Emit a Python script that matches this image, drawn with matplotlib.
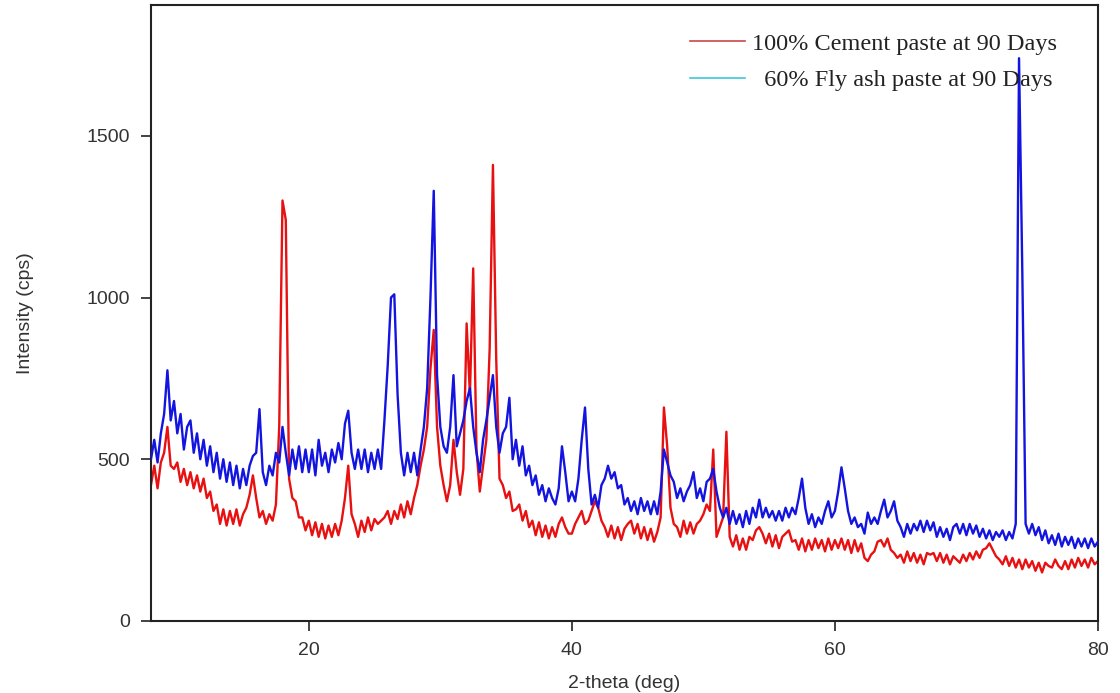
import numpy as np
import matplotlib
matplotlib.use("Agg")
import matplotlib.pyplot as plt
from matplotlib.lines import Line2D

# 2-theta grid: 8 to 80 deg, 0.25 deg step (values below, one per grid point)
two_theta_start = 8.0
two_theta_end = 80.0

# 60% fly ash paste at 90 days (blue)
flyash_60 = [
    500, 560, 490, 580, 640, 775, 620, 680,      # 8.00 - 9.75
    580, 640, 530, 600, 620, 520, 580, 500,      # 10
    560, 480, 540, 460, 520, 440, 500, 430,      # 12
    490, 420, 480, 410, 470, 420, 480, 510,      # 14
    520, 655, 460, 420, 480, 450, 520, 490,      # 16
    600, 520, 450, 530, 470, 540, 460, 530,      # 18
    460, 530, 450, 560, 480, 520, 460, 530,      # 20
    490, 550, 500, 610, 650, 520, 470, 530,      # 22
    470, 530, 460, 520, 470, 530, 470, 620,      # 24
    790, 1000, 1010, 700, 520, 450, 520, 460,    # 26
    520, 450, 530, 600, 720, 1000, 1330, 760,    # 28
    600, 540, 520, 600, 760, 540, 580, 620,      # 30
    680, 720, 600, 520, 460, 560, 620, 690,      # 32
    760, 600, 520, 580, 600, 690, 500, 560,      # 34
    480, 540, 450, 480, 420, 450, 390, 420,      # 36
    370, 410, 380, 360, 410, 540, 460, 370,      # 38
    400, 370, 440, 560, 660, 470, 360, 390,      # 40
    350, 420, 440, 480, 440, 460, 410, 420,      # 42
    360, 380, 340, 370, 330, 380, 340, 370,      # 44
    330, 370, 330, 400, 530, 490, 450, 430,      # 46
    380, 410, 370, 400, 420, 460, 380, 410,      # 48
    370, 430, 440, 470, 400, 350, 320, 350,      # 50
    300, 340, 300, 330, 290, 340, 300, 350,      # 52
    320, 375, 320, 350, 320, 340, 310, 340,      # 54
    310, 350, 320, 350, 330, 380, 440, 350,      # 56
    300, 330, 290, 320, 300, 340, 370, 320,      # 58
    340, 400, 475, 410, 340, 300, 320, 290,      # 60
    300, 270, 335, 300, 320, 300, 340, 375,      # 62
    320, 340, 370, 310, 290, 260, 300, 270,      # 64
    300, 280, 310, 275, 310, 280, 305, 260,      # 66
    290, 260, 285, 250, 290, 300, 270, 300,      # 68
    265, 300, 270, 295, 260, 285, 255, 280,      # 70
    250, 275, 260, 280, 250, 275, 255, 300,      # 72
    1740, 1080, 300, 270, 300, 265, 290, 250,    # 74
    280, 240, 265, 235, 270, 230, 260, 235,      # 76
    260, 225, 255, 230, 255, 225, 255, 230,      # 78
    245,                                         # 80
]

# 100% cement paste at 90 days (red)
cement_100 = [
    420, 480, 410, 490, 520, 600, 480, 470,      # 8
    490, 430, 470, 420, 460, 410, 450, 400,      # 10
    440, 380, 400, 340, 360, 300, 345, 295,      # 12
    340, 300, 345, 295, 330, 350, 390, 450,      # 14
    380, 320, 340, 300, 330, 310, 360, 600,      # 16
    1300, 1240, 440, 380, 370, 320, 320, 280,    # 18
    310, 265, 305, 260, 300, 255, 295, 260,      # 20
    300, 265, 310, 380, 480, 330, 300, 260,      # 22
    310, 275, 320, 280, 315, 300, 310, 320,      # 24
    340, 300, 340, 315, 360, 320, 370, 330,      # 26
    380, 420, 480, 530, 600, 780, 900, 600,      # 28
    480, 420, 370, 420, 560, 460, 390, 470,      # 30
    920, 700, 1090, 530, 400, 480, 560, 840,     # 32
    1410, 810, 440, 420, 380, 400, 340, 345,     # 34
    360, 310, 340, 290, 310, 265, 305, 260,      # 36
    295, 255, 290, 260, 300, 320, 290, 270,      # 38
    270, 300, 320, 340, 300, 310, 340, 370,      # 40
    350, 310, 290, 260, 295, 255, 290, 250,      # 42
    285, 300, 310, 270, 300, 255, 290, 250,      # 44
    285, 245, 275, 320, 660, 540, 350, 300,      # 46
    290, 260, 310, 270, 305, 270, 300, 310,      # 48
    330, 360, 340, 530, 260, 290, 320, 585,      # 50
    260, 230, 265, 220, 255, 220, 260, 250,      # 52
    280, 290, 270, 240, 270, 230, 265, 225,      # 54
    260, 270, 280, 245, 250, 220, 255, 215,      # 56
    250, 220, 255, 225, 250, 215, 255, 220,      # 58
    250, 225, 255, 220, 250, 210, 250, 215,      # 60
    240, 195, 185, 205, 215, 245, 250, 230,      # 62
    255, 220, 210, 195, 205, 180, 215, 185,      # 64
    210, 180, 205, 175, 210, 205, 210, 185,      # 66
    210, 180, 205, 175, 200, 190, 180, 205,      # 68
    185, 210, 190, 215, 195, 220, 225, 240,      # 70
    220, 200, 190, 175, 200, 170, 195, 165,      # 72
    190, 160, 190, 165, 185, 155, 180, 150,      # 74
    180, 170, 165, 190, 170, 160, 185, 160,      # 76
    190, 165, 195, 170, 190, 165, 195, 175,      # 78
    185,                                         # 80
]

series_labels = ["100% Cement paste at 90 Days", "  60% Fly ash paste at 90 Days"]
x_ticks = [20, 40, 60, 80]
y_ticks = [0, 500, 1000, 1500]

x_blue = np.linspace(two_theta_start, two_theta_end, len(flyash_60))
x_red = np.linspace(two_theta_start, two_theta_end, len(cement_100))

fig = plt.figure(figsize=(11.2, 6.93), dpi=100)
ax = fig.add_axes([0.1348, 0.104, 0.8455, 0.889])

ax.plot(x_red, cement_100, color="#e81010", lw=1.7, zorder=2)
ax.plot(x_blue, flyash_60, color="#1414e0", lw=1.7, zorder=3)

ax.set_xlim(8, 80)
ax.set_ylim(0, 1905)
ax.set_xticks(x_ticks)
ax.set_yticks(y_ticks)

tick_font = {"family": "Liberation Sans", "size": 14}
ax.set_xticklabels([str(t) for t in x_ticks], fontdict=tick_font, color="#333333")
ax.set_yticklabels([str(t) for t in y_ticks], fontdict=tick_font, color="#333333")
ax.tick_params(axis="x", direction="out", length=7, width=1.2, color="#222222", pad=8)
ax.tick_params(axis="y", direction="out", length=7, width=1.2, color="#222222", pad=8)

for s in ax.spines.values():
    s.set_linewidth(1.5)
    s.set_color("#222222")

ax.set_xlabel("2-theta (deg)", fontsize=14, family="Liberation Sans", color="#333333", labelpad=12)
ax.set_ylabel("Intensity (cps)", fontsize=14, family="Liberation Sans", color="#333333", labelpad=38)

handles = [Line2D([], [], color="#c84848", lw=1.2), Line2D([], [], color="#3cc8dc", lw=1.2)]
leg = ax.legend(handles, series_labels, loc="upper left", bbox_to_anchor=(0.546, 0.99),
                frameon=False, prop={"family": "Liberation Serif", "size": 17.5},
                handlelength=2.26, handletextpad=0.3, labelspacing=0.58)
for t in leg.get_texts():
    t.set_color("#222222")

fig.savefig("out.png", dpi=100)
